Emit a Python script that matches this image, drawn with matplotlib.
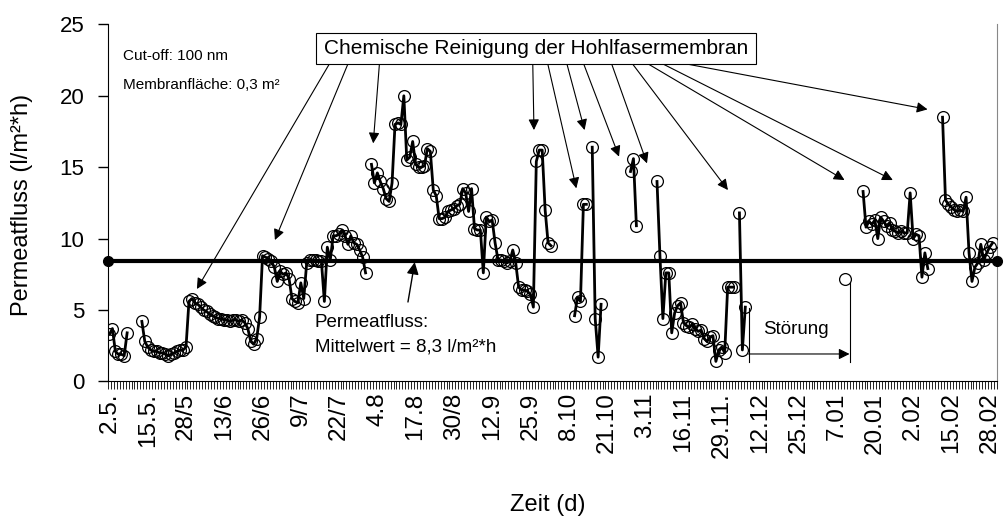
import numpy as np
import matplotlib
matplotlib.use('Agg')
import matplotlib.pyplot as plt
from matplotlib.patches import Rectangle

plt.rcParams['font.family'] = ['Liberation Sans', 'DejaVu Sans']

# x-axis: one category per day, labelled every 13 days
tick_labels = ['2.5.', '15.5.', '28/5', '13/6', '26/6', '9/7', '22/7', '4.8', '17.8',
               '30/8', '12.9', '25.9', '8.10', '21.10', '3.11', '16.11', '29.11.',
               '12.12', '25.12', '7.01', '20.01', '2.02', '15.02', '28.02']
tick_pos = np.arange(len(tick_labels)) * 13

N = None
flux = [
    3.3, 3.7, 2.1, 1.9, 1.9, 1.8, 3.4, N, N, N,            # 0
    N, 4.2, 2.8, 2.4, 2.2, 2.1, 2.1, 2.0, 2.0, 1.9,        # 10
    1.8, 1.9, 2.0, 2.1, 2.2, 2.2, 2.4, 5.6, 5.8, 5.5,      # 20
    5.4, 5.2, 5.0, 4.9, 4.7, 4.6, 4.5, 4.4, 4.4, 4.3,      # 30
    4.3, 4.2, 4.3, 4.3, 4.2, 4.3, 4.1, 3.7, 2.8, 2.6,      # 40
    3.0, 4.5, 8.8, 8.7, 8.6, 8.4, 8.0, 7.0, 7.7, 7.5,      # 50
    7.6, 7.2, 5.8, 5.6, 5.5, 6.9, 5.8, 8.3, 8.5, 8.5,      # 60
    8.5, 8.4, 8.4, 5.6, 9.4, 8.5, 10.2, 10.2, 10.3, 10.6,  # 70
    10.2, 9.6, 10.2, 9.7, 9.6, 9.2, 8.7, 7.6, N, 15.2,     # 80
    13.9, 14.6, 14.0, 13.5, 12.8, 12.6, 13.9, 18.0, 18.1, 18.0,  # 90
    20.0, 15.5, 15.7, 16.8, 15.2, 15.0, 15.0, 15.1, 16.3, 16.1,  # 100
    13.4, 13.0, 11.4, 11.4, 11.5, 11.9, 12.0, 12.1, 12.3, 12.4,  # 110
    13.5, 13.2, 11.9, 13.5, 10.7, 10.6, 10.6, 7.6, 11.5, 11.2,   # 120
    11.3, 9.7, 8.5, 8.5, 8.4, 8.3, 8.4, 9.2, 8.3, 6.6,     # 130
    6.4, 6.4, 6.3, 6.1, 5.2, 15.4, 16.2, 16.2, 12.0, 9.7,  # 140
    9.5, N, N, N, N, N, N, N, 4.6, 5.9,                    # 150
    5.6, 12.4, 12.4, N, 16.4, 4.4, 1.7, 5.4, N, N,         # 160
    N, N, N, N, N, N, N, 14.7, 15.6, 10.9,                 # 170
    N, N, N, N, N, N, 14.0, 8.8, 4.4, 7.6,                 # 180
    7.6, 3.4, 4.8, 5.3, 5.5, 4.1, 3.9, 3.8, 4.0, 3.7,      # 190
    3.5, 3.6, 3.0, 2.8, 3.1, 3.2, 1.4, 2.2, 2.4, 2.0,      # 200
    6.6, 6.6, 6.6, N, 11.8, 2.2, 5.2, N, N, N,             # 210
    N, N, N, N, N, N, N, N, N, N,                          # 220
    N, N, N, N, N, N, N, N, N, N,                          # 230
    N, N, N, N, N, N, N, N, N, N,                          # 240
    7.2, N, N, N, N, N, 13.3, 10.8, 11.2, 11.0,            # 250
    11.3, 10.0, 11.5, 11.2, 10.9, 11.1, 10.6, 10.5, 10.4, 10.5,  # 260
    10.4, 10.4, 13.2, 10.0, 10.3, 10.2, 7.3, 9.0, 7.9, N,  # 270
    N, N, N, 18.5, 12.7, 12.4, 12.2, 12.0, 11.9, 12.0,     # 280
    11.9, 12.9, 9.0, 7.0, 8.0, 8.3, 9.6, 8.5, 9.0, 9.4,    # 290
    9.7,                                                   # 300
]
days = np.arange(len(flux))
flux_arr = np.array([np.nan if v is None else v for v in flux])

mittelwert = 8.4
x_lo, x_hi = -0.5, 301.5

fig = plt.figure(figsize=(10.08, 5.29), dpi=100)
ax = fig.add_axes([108 / 1008, 1 - 381.4 / 529, 889 / 1008, 357 / 529])

ax.plot(days, flux_arr, color='black', linewidth=2.0, marker='o', markersize=8.5,
        markerfacecolor='none', markeredgecolor='black', markeredgewidth=0.9, zorder=3)
ax.plot([x_lo, x_hi], [mittelwert, mittelwert], color='black', linewidth=3.0,
        marker='o', markersize=7, clip_on=False, zorder=4)

ax.set_xlim(x_lo, x_hi)
ax.set_ylim(0, 25)
ax.set_yticks([0, 5, 10, 15, 20, 25])
ax.tick_params(axis='y', direction='out', length=7, width=1, labelsize=16, pad=10)
ax.set_xticks(tick_pos)
ax.set_xticklabels(tick_labels, rotation=90)
ax.set_xticks(np.arange(x_lo, x_hi + 0.5, 1.0), minor=True)
ax.tick_params(axis='x', which='major', length=0, labelsize=17.5, pad=8)
ax.tick_params(axis='x', which='minor', direction='out', length=6, width=0.6)
ax.spines['top'].set_visible(False)
ax.spines['right'].set_color('#888888')
ax.spines['right'].set_linewidth(0.8)

fig.text(22 / 1008, 1 - 205 / 529, 'Permeatfluss (l/m²*h)', rotation=90,
         ha='center', va='center', fontsize=17)
fig.text(548 / 1008, 1 - 505 / 529, 'Zeit (d)', ha='center', va='center', fontsize=17)

# info text
ax.text(4.6, 22.8, 'Cut-off: 100 nm', fontsize=11, va='center', ha='left')
ax.text(4.6, 20.75, 'Membranfläche: 0,3 m²', fontsize=11, va='center', ha='left')

# cleaning box with arrows
ax.add_patch(Rectangle((70.1, 22.23), 149.7, 2.17, facecolor='white', edgecolor='black',
                       linewidth=0.8, clip_on=False, zorder=5))
ax.text(145, 23.3, 'Chemische Reinigung der Hohlfasermembran', fontsize=15,
        ha='center', va='center', zorder=6)

arrow_start_x = [74.7, 81.0, 91.7, 143.8, 148.9, 155.4, 161.1, 170.6, 177.7, 183.0, 188.0, 196.0]
arrow_end = [(29.7, 6.47), (56.2, 9.9), (89.6, 16.67), (144.2, 17.6), (158.6, 13.52),
             (161.4, 17.6), (173.1, 15.74), (182.6, 15.27), (210.1, 13.4), (249.7, 14.1),
             (266.1, 14.1), (277.9, 19.05)]
for sx, (ex, ey) in zip(arrow_start_x, arrow_end):
    ax.annotate('', xy=(ex, ey), xytext=(sx, 22.23),
                arrowprops=dict(arrowstyle='-|>', color='black', lw=0.8,
                                mutation_scale=16, shrinkA=0, shrinkB=0),
                annotation_clip=False, zorder=2)

# mean value annotation
ax.annotate('', xy=(103.7, mittelwert - 0.05), xytext=(101.4, 5.56),
            arrowprops=dict(arrowstyle='-|>', color='black', lw=1.0,
                            mutation_scale=18, shrinkA=0, shrinkB=0))
ax.text(69.8, 4.09, 'Permeatfluss:', fontsize=13.5, va='center', ha='left')
ax.text(69.8, 2.41, 'Mittelwert = 8,3 l/m²*h', fontsize=13.5, va='center', ha='left')

# disturbance annotation
ax.plot([217.1, 217.1], [5.14, 1.36], color='black', linewidth=0.8)
ax.plot([251.4, 251.4], [6.89, 1.36], color='black', linewidth=0.8)
ax.annotate('', xy=(251.4, 1.92), xytext=(217.1, 1.92),
            arrowprops=dict(arrowstyle='-|>', color='black', lw=0.8,
                            mutation_scale=16, shrinkA=0, shrinkB=0))
ax.text(222.2, 3.6, 'Störung', fontsize=13.5, va='center', ha='left')

fig.savefig('out.png', dpi=100)
